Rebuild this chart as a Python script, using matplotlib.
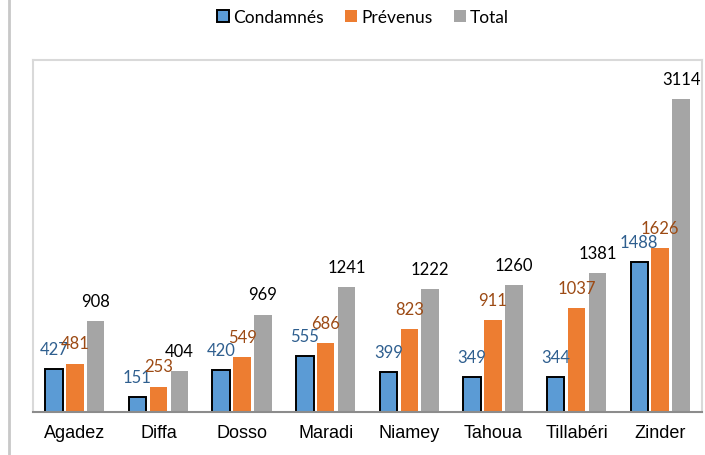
import matplotlib
matplotlib.use("Agg")
from matplotlib import pyplot as plt
from matplotlib.lines import Line2D
import numpy as np

regions = ["Agadez", "Diffa", "Dosso", "Maradi", "Niamey", "Tahoua", "Tillabéri", "Zinder"]
condamnes = [427, 151, 420, 555, 399, 349, 344, 1488]
prevenus = [481, 253, 549, 686, 823, 911, 1037, 1626]
total = [908, 404, 969, 1241, 1222, 1260, 1381, 3114]

fig = plt.figure(figsize=(7.05, 4.56), dpi=100)
ax = fig.add_axes([33/705, 43/456, 669/705, 352/456])

x = np.arange(len(regions))
w = 0.21
step = 0.25

b1 = ax.bar(x - step, condamnes, w, color="#5B9BD5", edgecolor="black", linewidth=1.4, label="Condamnés")
b2 = ax.bar(x, prevenus, w, color="#ED7D31", label="Prévenus")
b3 = ax.bar(x + step, total, w, color="#A5A5A5", label="Total")

# etiquettes au-dessus des barres
for bars, col in [(b1, "#2F5F8F"), (b2, "#9C4A14"), (b3, "black")]:
    for r in bars:
        ax.annotate(str(int(r.get_height())), (r.get_x() + r.get_width()/2, r.get_height()),
                    xytext=(0, 14.5), textcoords="offset points", ha="center", va="center",
                    fontsize=12, color=col, family="Lato")

ax.set_xlim(-0.5, len(regions) - 0.5)
ax.set_ylim(0, 3500)
ax.set_yticks([])
ax.set_xticks(x)
ax.set_xticklabels(regions, fontsize=13, family="Liberation Sans")
ax.tick_params(axis="x", length=0, pad=9)

for s in ["left", "top", "right"]:
    ax.spines[s].set_color("#D9D9D9")
    ax.spines[s].set_linewidth(1.5)
ax.spines["bottom"].set_color("#8C8C8C")
ax.spines["bottom"].set_linewidth(1.5)

fig.legend(handles=[b1, b2, b3], loc="center", bbox_to_anchor=(0.515, 0.96), ncol=3,
           frameon=False, prop={"family": "Lato", "size": 12.5}, handlelength=0.7,
           handleheight=0.7, handletextpad=0.25, columnspacing=1.2)

# trait gris a gauche
fig.add_artist(Line2D([9/705, 9/705], [0, 1], color="#C8C8C8", linewidth=2))

fig.savefig("out.png", dpi=100)
